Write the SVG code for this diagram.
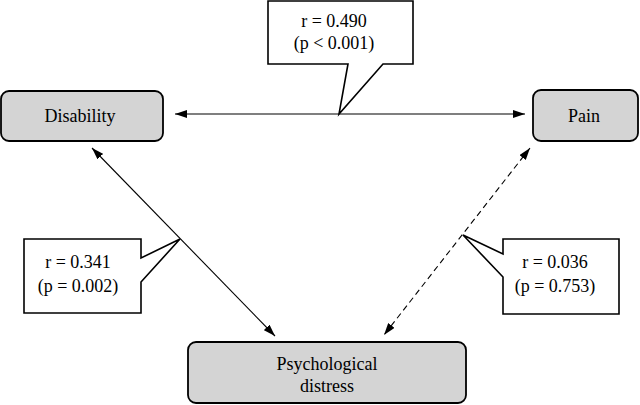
<svg xmlns="http://www.w3.org/2000/svg" width="640" height="405" viewBox="0 0 640 405">
<style>
.node{fill:#d4d4d4;stroke:#000;stroke-width:1.8}
.call{fill:#fff;stroke:#000;stroke-width:1.6;stroke-linejoin:miter}
.lbl{font-family:"Liberation Serif","Times New Roman",serif;font-size:18px;fill:#000;text-anchor:middle}
.edge{stroke:#000;stroke-width:1.1;fill:none}
</style>
<defs>
<marker id="ah" viewBox="0 0 12 8" refX="12" refY="4" markerWidth="12" markerHeight="8" markerUnits="userSpaceOnUse" orient="auto-start-reverse">
<path d="M0,0 L12,4 L0,8 Z" fill="#000"/>
</marker>
</defs>
<rect width="640" height="405" fill="#fff"/>
<g id="connectors">
<line class="edge" x1="175" y1="114" x2="525" y2="114" marker-start="url(#ah)" marker-end="url(#ah)"/>
<line class="edge" x1="92" y1="148" x2="275" y2="336" marker-start="url(#ah)" marker-end="url(#ah)"/>
<line class="edge" x1="530" y1="148" x2="384" y2="335" stroke-dasharray="6,4" marker-start="url(#ah)" marker-end="url(#ah)"/>
</g>
<g id="disability">
<rect class="node" x="1" y="91" width="162" height="50" rx="8"/>
<text class="lbl" x="80" y="122">Disability</text>
</g>
<g id="pain">
<rect class="node" x="533" y="90" width="105" height="51" rx="8"/>
<text class="lbl" x="584" y="122">Pain</text>
</g>
<g id="psych">
<rect class="node" x="188" y="342" width="278" height="61" rx="8"/>
<text class="lbl" x="327" y="370">Psychological</text>
<text class="lbl" x="327" y="392">distress</text>
</g>
<g id="label-top">
<path class="call" d="M268,1 H413 V64 H383 L339,114 L348,64 H268 Z"/>
<text class="lbl" x="334" y="27">r = 0.490</text>
<text class="lbl" x="334" y="49">(p &lt; 0.001)</text>
</g>
<g id="label-left">
<path class="call" d="M24,239 H141 V258 L180,239 L141,282 V313 H24 Z"/>
<text class="lbl" x="78" y="268">r = 0.341</text>
<text class="lbl" x="78" y="292">(p = 0.002)</text>
</g>
<g id="label-right">
<path class="call" d="M503,239 H619 V314 H503 V277 L463,235 L503,254 Z"/>
<text class="lbl" x="555" y="268">r = 0.036</text>
<text class="lbl" x="555" y="292">(p = 0.753)</text>
</g>
</svg>
